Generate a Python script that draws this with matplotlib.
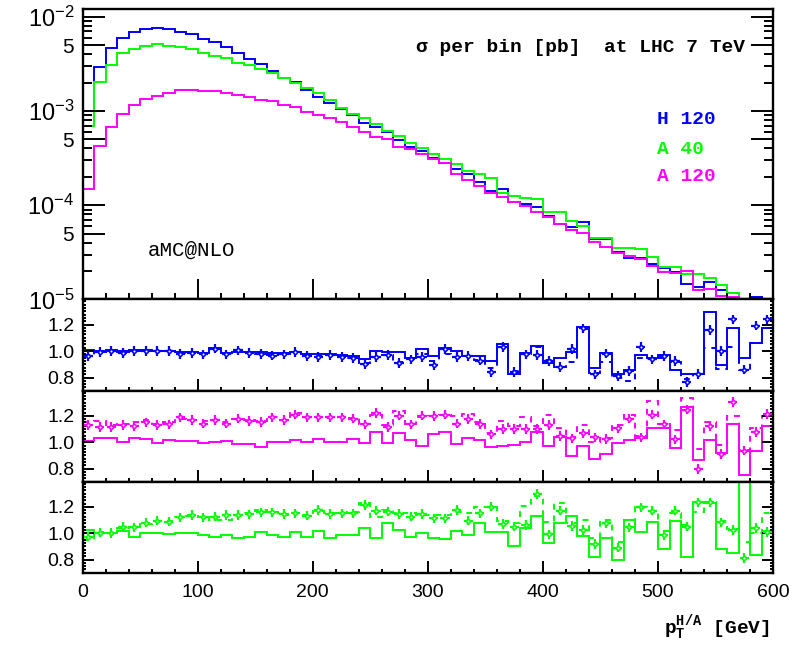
"""
pT spectrum of H/A in three mass points, with three ratio strips underneath.
"""

import matplotlib

matplotlib.use("Agg")
import matplotlib.pyplot as plt  # noqa: E402
import numpy as np  # noqa: E402
from matplotlib.ticker import (FixedLocator, FuncFormatter, LogLocator,  # noqa: E402
                               MultipleLocator, NullFormatter)

plt.rcParams["font.family"] = ["Liberation Sans", "DejaVu Sans"]
plt.rcParams["mathtext.fontset"] = "custom"
plt.rcParams["mathtext.rm"] = "Liberation Mono:bold"
plt.rcParams["mathtext.sf"] = "Liberation Sans"

# 10 GeV bins from 0 to 600 GeV
bin_edges = np.linspace(0, 600, 61)

# sigma per bin [pb]
h120 = [
    1.0e-3, 2.95e-3, 4.69e-3, 5.98e-3, 6.83e-3, 7.41e-3, 7.59e-3, 7.41e-3, 6.83e-3, 6.5e-3,
    5.8e-3, 5.43e-3, 4.81e-3, 4.15e-3, 3.53e-3, 3.15e-3, 2.65e-3, 2.25e-3, 2.01e-3, 1.67e-3,
    1.42e-3, 1.21e-3, 1.04e-3, 9.07e-4, 7.4e-4, 6.7e-4, 6.04e-4, 4.92e-4, 4.18e-4, 3.77e-4,
    3.15e-4, 2.79e-4, 2.41e-4, 2.15e-4, 1.78e-4, 1.43e-4, 1.49e-4, 1.07e-4, 1.03e-4, 9.67e-5,
    7.76e-5, 6.34e-5, 5.93e-5, 6.7e-5, 4.36e-5, 4.36e-5, 3.17e-5, 2.74e-5, 2.74e-5, 2.39e-5,
    2.18e-5, 1.98e-5, 1.46e-5, 1.35e-5, 1.55e-5, 1.26e-5, 1.18e-5, 9.0e-6, 1.07e-5, 8.0e-6,
]
a40 = [
    6.9e-4, 2.04e-3, 3.08e-3, 4.09e-3, 4.54e-3, 4.89e-3, 5.09e-3, 4.93e-3, 4.78e-3, 4.58e-3,
    4.15e-3, 3.86e-3, 3.67e-3, 3.25e-3, 3.08e-3, 2.79e-3, 2.51e-3, 2.22e-3, 1.97e-3, 1.74e-3,
    1.54e-3, 1.31e-3, 1.07e-3, 9.2e-4, 8.4e-4, 7.27e-4, 6.14e-4, 5.43e-4, 4.62e-4, 4.08e-4,
    3.5e-4, 3.07e-4, 2.74e-4, 2.33e-4, 2.15e-4, 1.93e-4, 1.34e-4, 1.26e-4, 1.2e-4, 1.17e-4,
    8.56e-5, 8.56e-5, 6.87e-5, 6.03e-5, 4.46e-5, 4.46e-5, 3.55e-5, 3.55e-5, 3.44e-5, 2.85e-5,
    2.23e-5, 2.23e-5, 1.87e-5, 1.87e-5, 1.71e-5, 1.43e-5, 1.17e-5, 8.0e-6, 7.0e-6, 6.0e-6,
]
a120 = [
    1.48e-4, 4.28e-4, 6.82e-4, 9.3e-4, 1.15e-3, 1.33e-3, 1.44e-3, 1.56e-3, 1.67e-3, 1.67e-3,
    1.64e-3, 1.63e-3, 1.56e-3, 1.48e-3, 1.42e-3, 1.31e-3, 1.26e-3, 1.16e-3, 1.11e-3, 9.84e-4,
    9.07e-4, 8.37e-4, 7.7e-4, 6.82e-4, 6.04e-4, 5.34e-4, 5.0e-4, 4.19e-4, 3.95e-4, 3.5e-4,
    3.07e-4, 2.79e-4, 2.13e-4, 1.85e-4, 1.6e-4, 1.36e-4, 1.23e-4, 1.07e-4, 9.84e-5, 8.42e-5,
    7.57e-5, 6.34e-5, 5.47e-5, 5.05e-5, 4.11e-5, 3.64e-5, 3.1e-5, 2.9e-5, 2.67e-5, 2.27e-5,
    1.98e-5, 1.93e-5, 2.02e-5, 1.26e-5, 1.28e-5, 1.09e-5, 1.06e-5, 7.0e-6, 6.0e-6, 5.0e-6,
]

# ratio strips: solid histogram, dashed histogram, points
h120_solid = [
    1.01, 1.0, 1.005, 1.0, 1.005, 1.005, 1.0, 1.0, 0.995, 0.99,
    0.985, 1.02, 0.985, 0.99, 0.99, 0.99, 0.985, 0.985, 0.995, 0.98,
    0.975, 0.975, 0.97, 0.965, 0.94, 1.0, 0.994, 0.994, 0.948, 1.016,
    0.961, 1.024, 0.999, 0.961, 0.966, 0.923, 1.054, 0.828, 0.986, 1.041,
    0.911, 0.948, 0.994, 1.18, 0.873, 0.986, 0.823, 0.86, 0.969, 0.948,
    0.969, 0.853, 0.83, 0.83, 1.295, 0.898, 1.175, 0.948, 1.061, 1.175,
]
h120_dashed = [
    0.97, 0.995, 1.0, 0.99, 1.0, 1.0, 1.0, 1.0, 0.985, 0.99,
    0.98, 1.015, 0.98, 1.0, 0.99, 0.98, 0.97, 0.975, 0.99, 0.965,
    0.96, 0.97, 0.96, 0.95, 0.91, 0.955, 0.97, 0.92, 0.94, 0.974,
    0.928, 0.974, 0.955, 0.96, 0.93, 0.87, 1.03, 0.85, 0.975, 1.03,
    0.93, 0.88, 0.916, 1.165, 0.835, 0.916, 0.80, 0.775, 0.948, 0.94,
    0.95, 0.92, 0.79, 0.83, 1.02, 0.866, 1.03, 0.86, 1.06, 1.175,
]
h120_pts = [
    0.961, 0.994, 0.999, 0.986, 0.999, 0.999, 0.999, 0.999, 0.979, 0.986,
    0.974, 1.019, 0.974, 1.004, 0.986, 0.979, 0.966, 0.974, 0.994, 0.961,
    0.956, 0.969, 0.956, 0.948, 0.903, 0.954, 0.969, 0.911, 0.936, 0.953,
    0.893, 1.016, 0.953, 0.961, 0.928, 0.840, 1.032, 0.842, 0.974, 0.969,
    0.923, 0.878, 1.016, 1.170, 0.823, 0.981, 0.810, 0.85, 1.032, 0.936,
    0.961, 0.923, 0.768, 0.827, 1.157, 0.999, 1.238, 0.860, 1.192, 1.238,
]

a120_solid = [
    1.009, 1.034, 1.034, 0.999, 1.034, 1.022, 0.991, 1.017, 1.009, 1.009,
    0.991, 0.999, 1.009, 0.986, 0.986, 0.961, 1.004, 1.004, 1.017, 0.999,
    1.024, 1.004, 1.004, 1.024, 0.991, 1.075, 0.991, 1.067, 1.017, 0.974,
    1.059, 1.074, 0.986, 1.034, 1.017, 0.966, 0.974, 0.979, 1.004, 1.074,
    0.971, 1.042, 0.898, 0.971, 0.873, 0.911, 0.991, 1.017, 1.034, 1.105,
    1.105, 0.959, 1.268, 0.866, 1.017, 0.916, 1.142, 0.753, 0.936, 1.125,
]
a120_dashed = [
    1.15, 1.16, 1.13, 1.14, 1.15, 1.172, 1.135, 1.15, 1.18, 1.17,
    1.16, 1.17, 1.15, 1.18, 1.17, 1.16, 1.19, 1.17, 1.22, 1.19,
    1.19, 1.185, 1.19, 1.185, 1.14, 1.21, 1.13, 1.235, 1.14, 1.19,
    1.20, 1.21, 1.203, 1.216, 1.15, 1.07, 1.16, 1.12, 1.19, 1.12,
    1.21, 1.105, 1.04, 1.13, 1.0, 1.035, 1.13, 1.21, 1.05, 1.313,
    1.14, 1.093, 1.336, 0.946, 1.15, 0.98, 1.20, 0.94, 1.11, 1.2,
]
a120_pts = [
    1.13, 1.117, 1.117, 1.13, 1.125, 1.150, 1.13, 1.135, 1.188, 1.168,
    1.142, 1.168, 1.142, 1.180, 1.162, 1.155, 1.188, 1.168, 1.210, 1.188,
    1.188, 1.188, 1.188, 1.180, 1.135, 1.223, 1.117, 1.203, 1.135, 1.203,
    1.198, 1.210, 1.142, 1.175, 1.137, 1.059, 1.100, 1.100, 1.100, 1.100,
    1.130, 1.047, 1.029, 1.067, 1.037, 1.024, 1.105, 1.180, 1.037, 1.210,
    1.135, 1.022, 1.248, 0.798, 1.122, 0.911, 1.306, 0.936, 1.079, 1.213,
]

a40_solid = [
    1.025, 1.005, 1.0, 1.017, 0.975, 1.005, 1.005, 0.995, 1.005, 1.005,
    0.987, 0.975, 0.987, 0.962, 0.975, 1.008, 0.987, 0.975, 1.008, 0.975,
    1.020, 0.962, 0.987, 0.987, 1.038, 0.962, 1.075, 1.025, 0.975, 1.0,
    0.962, 0.955, 1.017, 0.987, 1.075, 1.012, 1.012, 0.904, 1.038, 1.133,
    0.925, 1.075, 1.131, 0.982, 0.819, 0.962, 0.793, 1.10, 1.008, 1.088,
    0.881, 1.093, 0.823, 1.239, 1.226, 0.881, 0.849, 1.6, 0.836, 1.017,
]
a40_dashed = [
    0.95, 1.01, 1.0, 1.04, 1.05, 1.07, 1.09, 1.09, 1.12, 1.13,
    1.12, 1.10, 1.10, 1.13, 1.15, 1.176, 1.16, 1.14, 1.15, 1.14,
    1.17, 1.15, 1.15, 1.16, 1.226, 1.12, 1.18, 1.15, 1.15, 1.14,
    1.14, 1.14, 1.16, 1.15, 1.20, 1.20, 1.09, 1.08, 1.21, 1.28,
    1.083, 1.226, 1.08, 1.10, 0.96, 1.10, 0.93, 1.10, 1.20, 1.17,
    1.02, 1.15, 1.06, 1.16, 1.24, 1.09, 1.03, 0.934, 1.0, 1.15,
]
a40_pts = [
    0.975, 1.005, 1.0, 1.050, 1.045, 1.080, 1.095, 1.088, 1.120, 1.138,
    1.12, 1.125, 1.138, 1.138, 1.143, 1.158, 1.158, 1.145, 1.15, 1.133,
    1.176, 1.145, 1.15, 1.15, 1.214, 1.171, 1.163, 1.146, 1.125, 1.146,
    1.113, 1.113, 1.176, 1.095, 1.151, 1.201, 1.070, 1.050, 1.063, 1.297,
    0.992, 1.171, 1.055, 1.025, 0.919, 1.075, 0.891, 1.045, 1.196, 1.171,
    0.987, 1.171, 1.050, 1.234, 1.234, 1.083, 1.025, 0.811, 1.038, 1.008,
]

BLUE, GREEN, MAGENTA = "#0000ff", "#00ff00", "#ff00ff"
LW = 1.4

centers = 0.5 * (bin_edges[:-1] + bin_edges[1:])

fig = plt.figure(figsize=(7.92, 6.46), dpi=100)
L, W = 0.1042, 0.872
ax_main = fig.add_axes([L, 0.5364, W, 0.4497])
ax_r = [
    fig.add_axes([L, 0.3947, W, 0.1417]),
    fig.add_axes([L, 0.2539, W, 0.1408]),
    fig.add_axes([L, 0.1130, W, 0.1409]),
]


def frame(ax, ylen, ylen_min, xlen, xlen_min):
    for s in ax.spines.values():
        s.set_linewidth(1.7)
    ax.tick_params(which="both", direction="in", top=False, right=True,
                   bottom=True, left=True, width=1.4, labelsize=14)
    ax.tick_params(axis="y", which="major", length=ylen, pad=6)
    ax.tick_params(axis="y", which="minor", length=ylen_min)
    ax.tick_params(axis="x", which="major", length=xlen, pad=8)
    ax.tick_params(axis="x", which="minor", length=xlen_min)
    ax.set_xlim(0, 600)
    ax.xaxis.set_major_locator(MultipleLocator(100))
    ax.xaxis.set_minor_locator(MultipleLocator(20))


def is_decade(v):
    e = np.floor(np.log10(v) + 1e-9)
    return abs(v / 10.0 ** e - 1) < 1e-6


# --- spectrum ---
for vals, col in [(h120, BLUE), (a40, GREEN), (a120, MAGENTA)]:
    ax_main.stairs(vals, bin_edges, baseline=1e-8, color=col, lw=LW)
ax_main.set_yscale("log")
ax_main.set_ylim(1e-5, 1.207e-2)
frame(ax_main, 15.5, 6.5, 14.5, 4.2)
decade_ticks = [1e-5, 5e-5, 1e-4, 5e-4, 1e-3, 5e-3, 1e-2]
ax_main.yaxis.set_major_locator(FixedLocator(decade_ticks))
ax_main.yaxis.set_minor_locator(LogLocator(subs=(2, 3, 4, 6, 7, 8, 9), numticks=20))
ax_main.yaxis.set_minor_formatter(NullFormatter())


def log_label(v, _):
    e = int(np.floor(np.log10(v) + 1e-9))
    if is_decade(v):
        return r"$\mathsf{10^{%d}}$" % e
    return "%d" % round(v / 10.0 ** e)


ax_main.yaxis.set_major_formatter(FuncFormatter(log_label))
# powers of ten drawn a bit larger than the "5" labels
for v, tick in zip(decade_ticks, ax_main.yaxis.get_major_ticks(len(decade_ticks))):
    tick.label1.set_fontsize(17 if is_decade(v) else 15)
ax_main.tick_params(axis="x", labelbottom=False)

mono = ["Liberation Mono", "DejaVu Sans Mono"]
txt = dict(family=mono, weight="bold", fontsize=14)
ax_main.text(0.959, 0.869, "σ per bin [pb]  at LHC 7 TeV", transform=ax_main.transAxes,
             ha="right", va="center", **txt)
ax_main.text(0.832, 0.618, "H 120", color=BLUE, transform=ax_main.transAxes,
             ha="left", va="center", **txt)
ax_main.text(0.832, 0.518, "A 40", color=GREEN, transform=ax_main.transAxes,
             ha="left", va="center", **txt)
ax_main.text(0.832, 0.422, "A 120", color=MAGENTA, transform=ax_main.transAxes,
             ha="left", va="center", **txt)
ax_main.text(0.095, 0.170, "aMC@NLO", transform=ax_main.transAxes,
             ha="left", va="center", family=mono, fontsize=15)

# --- ratio strips ---
strips = [
    (h120_solid, h120_dashed, h120_pts, BLUE),
    (a120_solid, a120_dashed, a120_pts, MAGENTA),
    (a40_solid, a40_dashed, a40_pts, GREEN),
]
for ax, (solid, dashed, pts, col) in zip(ax_r, strips):
    ax.stairs(solid, bin_edges, baseline=0, color=col, lw=LW)
    ax.stairs(dashed, bin_edges, baseline=None, color=col, lw=LW, linestyle=(0, (3, 3)))
    ax.errorbar(centers, pts, xerr=4.0, yerr=0.036, fmt="o", ms=2.6, mfc="white",
                mec=col, mew=1.1, ecolor=col, elinewidth=1.6, capsize=0, zorder=3)
    ax.set_ylim(0.698, 1.389)
    frame(ax, 8.0, 2.5, 8.6, 3.2)
    ax.yaxis.set_major_locator(FixedLocator([0.8, 1.0, 1.2]))
    ax.yaxis.set_minor_locator(MultipleLocator(0.025))
    ax.yaxis.set_major_formatter(FuncFormatter(lambda v, _: "%.1f" % v))
    if ax is not ax_r[-1]:
        ax.tick_params(axis="x", labelbottom=False)

fig.text(0.972, 0.028, r"$\mathrm{p_T^{H/A}}$ [GeV]", ha="right", va="center",
         family=mono, weight="bold", fontsize=14)

fig.savefig("out.png", dpi=100)
